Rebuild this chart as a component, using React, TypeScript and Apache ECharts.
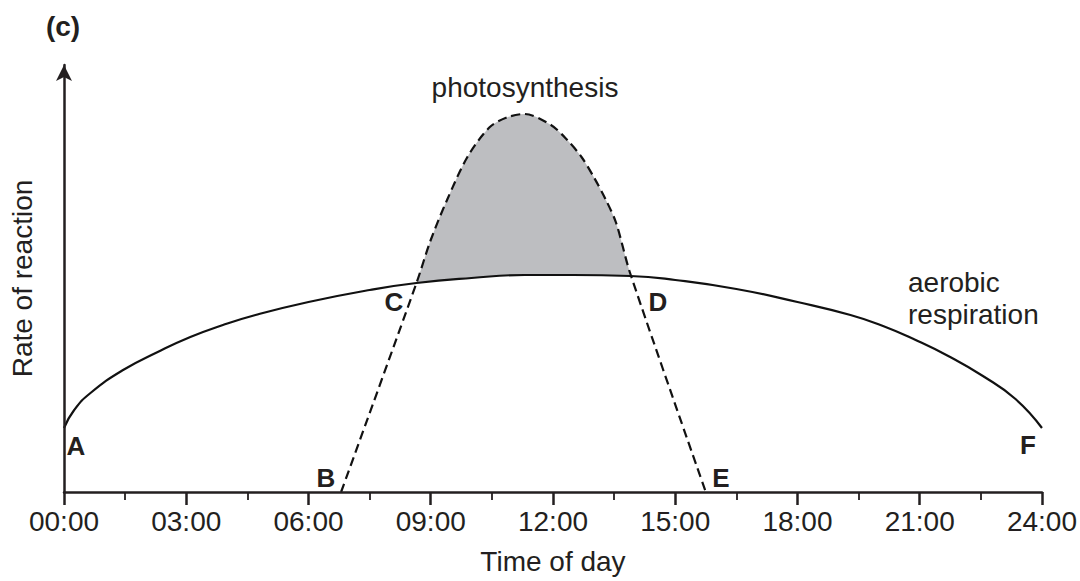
import React, { useEffect, useRef } from "react";
import * as echarts from "echarts";

// Aerobic respiration (solid curve)
const respHours = [0, 0.25, 0.65, 1.45, 2.3, 3.1, 3.9, 4.7, 6, 7.5, 8.65, 10, 11.3, 12.5, 13.9, 15, 16.5, 18, 19.3, 20.1, 20.9, 21.7, 22.55, 23.35, 24];
const respRate = [64, 82, 99, 122, 140, 155, 167, 177, 190, 202, 209, 214, 217, 217, 216, 212, 203, 190, 177, 166, 152, 136, 116, 93, 64];

// Photosynthesis (dashed curve)
const photoHours = [6.8, 8.65, 9.0, 9.4, 9.9, 10.45, 10.9, 11.3, 11.95, 12.35, 12.7, 13.0, 13.3, 13.55, 13.9, 15.75];
const photoRate = [0, 209, 252, 292, 335, 365, 375, 378, 367, 352, 335, 315, 292, 269, 218, 0];

// Axis ticks
const xMin = 0;
const xMax = 24;
const xInterval = 3;
const yMax = 427;

// Point labels
const pointLabels = ["A", "B", "C", "D", "E", "F"];

const INK = "#231f20";
const FONT = "'Liberation Sans', Arial, Helvetica, sans-serif";

function fmtHour(v: number): string {
  const h = Math.round(v);
  return (h < 10 ? "0" : "") + h + ":00";
}

export default function App() {
  const ref = useRef<HTMLDivElement>(null);

  useEffect(() => {
    if (!ref.current) return;
    const chart = echarts.init(ref.current, undefined, { renderer: "svg" });
    const resp = respHours.map((h, i) => [h, respRate[i]]);
    const photo = photoHours.map((h, i) => [h, photoRate[i]]);

    const labelPos: [number, number][] = [
      [76, 446],
      [326, 478],
      [394, 302],
      [658, 302],
      [721, 478],
      [1028, 445],
    ];

    const txt = (text: string, x: number, y: number, font: string, align: string) => ({
      type: "text",
      x,
      y,
      z: 100,
      zlevel: 1,
      style: {
        text,
        font,
        fill: INK,
        textAlign: align,
        textVerticalAlign: "middle",
      },
    });

    chart.setOption({
      animation: false,
      backgroundColor: "#ffffff",
      grid: { left: 62, right: 37, top: 65, bottom: 89, containLabel: false },
      xAxis: {
        type: "value",
        min: xMin,
        max: xMax,
        interval: xInterval,
        z: 5,
        name: "Time of day",
        nameLocation: "middle",
        nameGap: 55,
        nameTextStyle: { fontSize: 28, color: INK, fontFamily: FONT },
        axisLine: { show: true, lineStyle: { color: INK, width: 2.5 } },
        axisTick: { show: true, length: 13, lineStyle: { color: INK, width: 2.5 } },
        minorTick: { show: true, splitNumber: 2, length: 8, lineStyle: { color: INK, width: 1.8 } },
        axisLabel: {
          fontSize: 28,
          color: INK,
          fontFamily: FONT,
          margin: 15,
          formatter: (v: number) => fmtHour(v),
        },
        splitLine: { show: false },
        minorSplitLine: { show: false },
      },
      yAxis: {
        type: "value",
        min: 0,
        max: yMax,
        z: 5,
        name: "Rate of reaction",
        nameLocation: "middle",
        nameGap: 28,
        nameTextStyle: { fontSize: 28, color: INK, fontFamily: FONT },
        axisLine: {
          show: true,
          symbol: ["none", "arrow"],
          symbolSize: [12, 16],
          lineStyle: { color: INK, width: 2.5 },
        },
        axisTick: { show: false },
        axisLabel: { show: false },
        splitLine: { show: false },
      },
      series: [
        {
          name: "photosynthesis-fill",
          type: "line",
          data: photo,
          smooth: 0.3,
          symbol: "none",
          z: 1,
          lineStyle: { width: 0, opacity: 0 },
          areaStyle: { color: "#bdbec1", opacity: 1 },
          silent: true,
        },
        {
          name: "aerobic respiration",
          type: "line",
          data: resp,
          smooth: 0.5,
          symbol: "none",
          z: 2,
          lineStyle: { color: "#111111", width: 2.2 },
          areaStyle: { color: "#ffffff", opacity: 1 },
          silent: true,
        },
        {
          name: "photosynthesis",
          type: "line",
          data: photo,
          smooth: 0.3,
          symbol: "none",
          z: 3,
          lineStyle: { color: "#111111", width: 2.2, type: [9, 5] },
          silent: true,
        },
      ],
      graphic: [
        txt("(c)", 63, 26, `bold 28px ${FONT}`, "center"),
        txt("photosynthesis", 525, 87, `28px ${FONT}`, "center"),
        txt("aerobic", 908, 282, `28px ${FONT}`, "left"),
        txt("respiration", 908, 314, `28px ${FONT}`, "left"),
        ...pointLabels.map((t, i) => txt(t, labelPos[i][0], labelPos[i][1], `bold 26px ${FONT}`, "center")),
      ],
    });

    return () => chart.dispose();
  }, []);

  return (
    <div
      ref={ref}
      style={{ position: "fixed", left: 0, top: 0, width: 1080, height: 581, background: "#fff" }}
    />
  );
}
